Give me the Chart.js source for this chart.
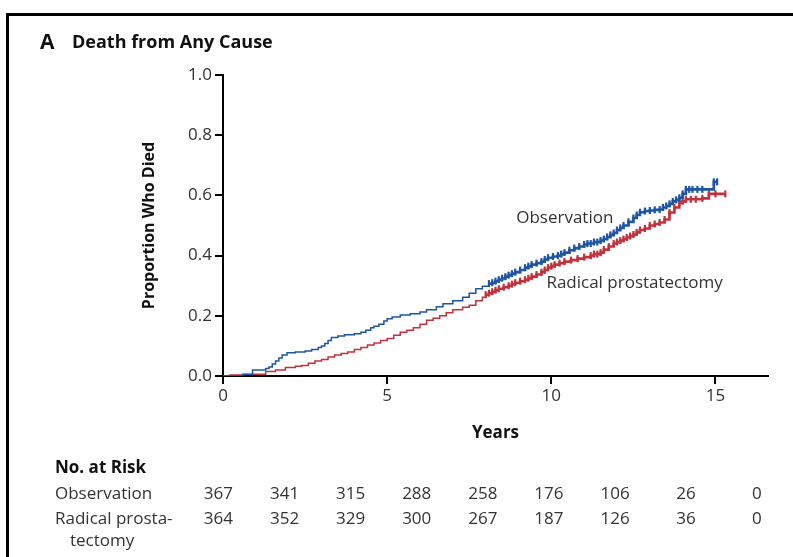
<!DOCTYPE html>
<html>
<head>
<meta charset="utf-8">
<script src="https://cdn.jsdelivr.net/npm/chart.js@4.4.0/dist/chart.umd.min.js"></script>
<style>
  html, body { margin: 0; padding: 0; background: #fff; }
  #wrap { position: relative; width: 793px; height: 557px; }
</style>
</head>
<body>
<div id="wrap"><canvas id="km-chart" width="793" height="557"></canvas></div>
<script>
// values (years, cumulative proportion who died)
const obsYears = [0, 0.6, 0.9, 1.3, 1.4, 1.5, 1.6, 1.7, 1.8, 1.95, 2.2, 2.5, 2.7, 2.9, 3.0, 3.1, 3.2, 3.3, 3.5, 3.7, 4.0, 4.2, 4.35, 4.5, 4.6, 4.75, 4.9, 5.0, 5.15, 5.4, 5.7, 6.0, 6.2, 6.5, 6.7, 7.0, 7.3, 7.5, 7.7, 7.9,
  8.1, 8.2, 8.3, 8.4, 8.5, 8.6, 8.7, 8.8, 8.9, 9.05, 9.2, 9.3, 9.4, 9.55, 9.7, 9.8, 9.9, 10.05, 10.2, 10.3, 10.4, 10.55, 10.7, 10.85, 11.0, 11.1, 11.2, 11.3, 11.4, 11.5, 11.6, 11.7, 11.8, 11.9, 12.0, 12.1, 12.2, 12.35, 12.5, 12.6, 12.7, 12.85, 13.0, 13.15, 13.3, 13.4, 13.5, 13.6, 13.7, 13.8, 13.9, 14.0, 14.1, 14.2, 14.3, 14.45, 14.6, 14.95, 15.05];
const obsValues = [0, 0.005, 0.02, 0.025, 0.03, 0.04, 0.05, 0.06, 0.07, 0.077, 0.08, 0.083, 0.088, 0.095, 0.10, 0.108, 0.118, 0.128, 0.133, 0.137, 0.14, 0.145, 0.152, 0.16, 0.165, 0.172, 0.183, 0.19, 0.196, 0.203, 0.207, 0.213, 0.22, 0.23, 0.24, 0.25, 0.262, 0.275, 0.29, 0.298,
  0.307, 0.31, 0.315, 0.32, 0.325, 0.33, 0.335, 0.34, 0.345, 0.352, 0.36, 0.365, 0.37, 0.375, 0.38, 0.387, 0.393, 0.397, 0.40, 0.405, 0.41, 0.418, 0.425, 0.43, 0.437, 0.44, 0.44, 0.445, 0.445, 0.45, 0.455, 0.462, 0.469, 0.475, 0.485, 0.492, 0.50, 0.512, 0.525, 0.535, 0.544, 0.548, 0.55, 0.552, 0.553, 0.56, 0.565, 0.572, 0.58, 0.585, 0.592, 0.605, 0.62, 0.62, 0.62, 0.62, 0.62, 0.645, 0.645];

const rpYears = [0, 0.2, 0.6, 1.3, 1.6, 1.9, 2.2, 2.4, 2.6, 2.8, 3.0, 3.2, 3.4, 3.6, 3.8, 4.0, 4.2, 4.4, 4.6, 4.8, 5.0, 5.2, 5.4, 5.6, 5.8, 6.0, 6.2, 6.4, 6.6, 6.8, 7.0, 7.3, 7.5, 7.7, 7.9,
  8.0, 8.1, 8.2, 8.3, 8.4, 8.55, 8.7, 8.8, 8.9, 9.05, 9.2, 9.3, 9.4, 9.55, 9.7, 9.8, 9.9, 10.0, 10.1, 10.25, 10.4, 10.6, 10.8, 11.0, 11.2, 11.3, 11.4, 11.5, 11.6, 11.75, 11.9, 12.0, 12.1, 12.2, 12.3, 12.4, 12.5, 12.6, 12.7, 12.85, 13.0, 13.15, 13.3, 13.45, 13.6, 13.75, 13.9, 14.0, 14.1, 14.25, 14.4, 14.6, 14.8, 15.0, 15.3];
const rpValues = [0, 0.003, 0.006, 0.015, 0.02, 0.028, 0.032, 0.035, 0.042, 0.05, 0.055, 0.063, 0.07, 0.075, 0.08, 0.088, 0.095, 0.103, 0.11, 0.118, 0.125, 0.135, 0.145, 0.152, 0.16, 0.172, 0.185, 0.192, 0.20, 0.21, 0.22, 0.228, 0.235, 0.25, 0.262,
  0.27, 0.275, 0.28, 0.285, 0.29, 0.295, 0.30, 0.305, 0.31, 0.315, 0.32, 0.325, 0.33, 0.337, 0.345, 0.352, 0.36, 0.365, 0.37, 0.375, 0.38, 0.385, 0.39, 0.395, 0.40, 0.405, 0.405, 0.41, 0.42, 0.43, 0.44, 0.445, 0.45, 0.455, 0.46, 0.465, 0.47, 0.477, 0.485, 0.49, 0.50, 0.505, 0.51, 0.52, 0.543, 0.56, 0.576, 0.58, 0.587, 0.587, 0.587, 0.59, 0.605, 0.605, 0.605];

const riskLabels = ['Observation', 'Radical prosta-'];
const riskObs = [367, 341, 315, 288, 258, 176, 106, 26, 0];
const riskRp = [364, 352, 329, 300, 267, 187, 126, 36, 0];

const yTicks = [0, 0.2, 0.4, 0.6, 0.8, 1.0];

const FONT = '"Open Sans", "DejaVu Sans", sans-serif';
const BLUE = '#1d55a3';
const RED = '#c2323c';

const toPoints = (xs, ys) => xs.map((x, i) => ({ x: x, y: ys[i] }));

const censorRadius = (ctx) => (ctx.raw && ctx.raw.x >= 8 ? 3.5 : 0);
const segWidth = (ctx) => (ctx.p0.parsed.x >= 8 ? 2.6 : 1.5);

const kmDecorPlugin = {
  id: 'kmDecor',
  beforeDraw(chart) {
    const c = chart.ctx;
    c.save();
    c.fillStyle = '#fff';
    c.fillRect(0, 0, chart.width, chart.height);
    // frame (top + left edges of the figure box)
    c.strokeStyle = '#000';
    c.lineWidth = 3;
    c.beginPath();
    c.moveTo(7.5, chart.height);
    c.lineTo(7.5, 14.5);
    c.lineTo(chart.width, 14.5);
    c.stroke();
    c.restore();
  },
  afterDraw(chart) {
    const c = chart.ctx;
    const xs = chart.scales.x;
    const ys = chart.scales.y;
    c.save();
    c.textBaseline = 'middle';
    c.fillStyle = '#111';
    // panel title
    c.font = 'bold 21px ' + FONT;
    c.textAlign = 'left';
    c.fillText('A', 40, 43);
    c.font = 'bold 18px ' + FONT;
    c.fillText('Death from Any Cause', 72, 43);

    // curve labels
    c.font = '17px ' + FONT;
    c.fillStyle = '#333';
    c.fillText('Observation', xs.getPixelForValue(8.93), ys.getPixelForValue(0.524));
    c.fillText('Radical prostatectomy', xs.getPixelForValue(9.85), ys.getPixelForValue(0.31));

    // number at risk table
    c.fillStyle = '#111';
    c.font = 'bold 17px ' + FONT;
    c.fillText('No. at Risk', 55, 468);
    c.fillStyle = '#333';
    c.font = '17px ' + FONT;
    c.fillText(riskLabels[0], 55, 494);
    c.fillText(riskLabels[1], 55, 519);
    c.fillText('tectomy', 70, 541);
    c.textAlign = 'right';
    riskObs.forEach((v, i) => c.fillText(String(v), 233 + 66.1 * i, 494));
    riskRp.forEach((v, i) => c.fillText(String(v), 233 + 66.1 * i, 519));
    c.restore();
  }
};

const kmConfig = {
  type: 'line',
  data: {
    datasets: [
      {
        label: 'Observation',
        data: toPoints(obsYears, obsValues),
        borderColor: BLUE,
        backgroundColor: BLUE,
        borderWidth: 1.5,
        segment: { borderWidth: segWidth },
        stepped: true,
        pointStyle: 'line',
        rotation: 90,
        pointRadius: censorRadius,
        pointBorderWidth: 2.2,
        pointBorderColor: BLUE,
        fill: false,
      },
      {
        label: 'Radical prostatectomy',
        data: toPoints(rpYears, rpValues),
        borderColor: RED,
        backgroundColor: RED,
        borderWidth: 1.5,
        segment: { borderWidth: segWidth },
        stepped: true,
        pointStyle: 'line',
        rotation: 90,
        pointRadius: censorRadius,
        pointBorderWidth: 2.2,
        pointBorderColor: RED,
        fill: false,
      }
    ]
  },
  options: {
    responsive: false,
    animation: false,
    events: [],
    layout: {
      padding: { left: 0, right: 25, top: 75, bottom: 111 }
    },
    plugins: {
      legend: { display: false },
      tooltip: { enabled: false },
      title: { display: false }
    },
    scales: {
      x: {
        type: 'linear',
        min: 0,
        max: 16.6,
        afterFit(scale) { scale.height = 70; },
        border: { display: true, color: '#000', width: 2 },
        grid: { drawOnChartArea: false, drawTicks: true, tickLength: 8, color: '#000', lineWidth: 2 },
        ticks: {
          stepSize: 5,
          includeBounds: false,
          autoSkip: false,
          maxRotation: 0,
          padding: 2,
          color: '#333',
          font: { family: FONT, size: 17 }
        },
        title: {
          display: true,
          text: 'Years',
          color: '#111',
          font: { family: FONT, size: 17, weight: 'bold' },
          padding: { top: 0, bottom: 3 }
        }
      },
      y: {
        type: 'linear',
        min: 0,
        max: 1,
        afterFit(scale) { scale.width = 223; },
        afterBuildTicks(scale) { scale.ticks = yTicks.map(v => ({ value: v })); },
        border: { display: true, color: '#000', width: 2 },
        grid: { drawOnChartArea: false, drawTicks: true, tickLength: 8, color: '#000', lineWidth: 2 },
        ticks: {
          padding: 3,
          color: '#333',
          font: { family: FONT, size: 17 },
          callback: (v) => Number(v).toFixed(1)
        },
        title: {
          display: true,
          text: 'Proportion Who Died',
          color: '#111',
          font: { family: FONT, size: 16, weight: 'bold' },
          padding: { top: 140, bottom: 0 }
        }
      }
    }
  },
  plugins: [kmDecorPlugin]
};

const kmCanvas = document.getElementById('km-chart');
const kmChart = new Chart(kmCanvas, kmConfig);
</script>
</body>
</html>
